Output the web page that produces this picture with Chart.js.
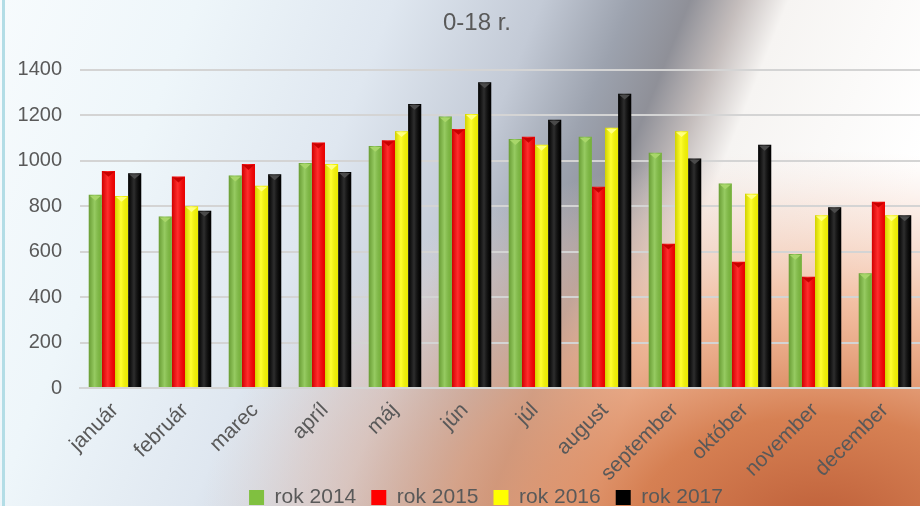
<!DOCTYPE html>
<html>
<head>
<meta charset="utf-8">
<script src="https://cdn.jsdelivr.net/npm/chart.js@4"></script>
<style>
  html, body { margin: 0; padding: 0; background: #fff; }
  #wrap { width: 920px; height: 506px; position: relative; }
</style>
</head>
<body>
<div id="wrap"><canvas id="chart"></canvas></div>
<script>
const months = ['január', 'február', 'marec', 'apríl', 'máj', 'jún', 'júl', 'august', 'september', 'október', 'november', 'december'];
const rok2014 = [850, 755, 935, 990, 1065, 1195, 1095, 1105, 1035, 900, 590, 505];
const rok2015 = [955, 930, 985, 1080, 1090, 1140, 1105, 885, 635, 555, 490, 820];
const rok2016 = [845, 800, 890, 985, 1130, 1205, 1070, 1145, 1130, 855, 760, 760];
const rok2017 = [945, 780, 940, 950, 1250, 1345, 1180, 1295, 1010, 1070, 795, 760];
const yTicks = [0, 200, 400, 600, 800, 1000, 1200, 1400];

const textGrey = '#595959';
const fontFamily = "'Liberation Sans', Arial, sans-serif";

// triangle tops on the bars, one shade per series
const topShades = ['#a8d66a', '#c80000', '#ffff80', '#4a4a4a'];

const backgroundPlugin = {
    id: 'bg',
    beforeDraw(chart) {
        const ctx = chart.ctx;
        const w = chart.width, h = chart.height;
        ctx.save();
        // tilted so the grey swoosh leans to the left going down
        let g = ctx.createLinearGradient(0, 0, 850, 340);
        g.addColorStop(0, '#f7fbfd');
        g.addColorStop(0.2, '#eef6fa');
        g.addColorStop(0.4, '#dfe7f0');
        g.addColorStop(0.55, '#c3cad6');
        g.addColorStop(0.64, '#9ca2ae');
        g.addColorStop(0.7, '#8f9098');
        g.addColorStop(0.75, '#c4bdbc');
        g.addColorStop(0.8, '#f6f4f2');
        g.addColorStop(1, '#ffffff');
        ctx.fillStyle = g;
        ctx.fillRect(0, 0, w, h);

        // warm orange glow coming from the lower right
        ctx.translate(820, 530);
        ctx.scale(1, 380 / 620);
        const r = ctx.createRadialGradient(0, 0, 0, 0, 0, 620);
        r.addColorStop(0, 'rgba(185,85,45,0.95)');
        r.addColorStop(0.3, 'rgba(210,115,65,0.9)');
        r.addColorStop(0.6, 'rgba(238,165,125,0.7)');
        r.addColorStop(0.85, 'rgba(242,200,180,0.35)');
        r.addColorStop(1, 'rgba(245,220,210,0)');
        ctx.fillStyle = r;
        ctx.fillRect(-820, -530 * 620 / 380, w, h * 620 / 380);
        ctx.restore();

        ctx.save();
        ctx.fillStyle = '#b3dde6';
        ctx.fillRect(2, 0, 3, h);
        ctx.restore();
    }
};

const bevelPlugin = {
    id: 'bevel',
    afterDatasetsDraw(chart) {
        const ctx = chart.ctx;
        ctx.save();
        chart.data.datasets.forEach((ds, i) => {
            const meta = chart.getDatasetMeta(i);
            meta.data.forEach(bar => {
                const p = bar.getProps(['x', 'y', 'base', 'width'], true);
                const left = p.x - p.width / 2;
                const g = ctx.createLinearGradient(left, 0, left + p.width, 0);
                g.addColorStop(0, 'rgba(0,0,0,0.18)');
                g.addColorStop(0.45, 'rgba(255,255,255,0.18)');
                g.addColorStop(1, 'rgba(0,0,0,0.08)');
                ctx.fillStyle = g;
                ctx.fillRect(left, p.y, p.width, p.base - p.y);
                ctx.fillStyle = topShades[i];
                ctx.beginPath();
                ctx.moveTo(left + 1, p.y + 1);
                ctx.lineTo(left + p.width - 1, p.y + 1);
                ctx.lineTo(p.x, p.y + p.width * 0.45);
                ctx.closePath();
                ctx.fill();
            });
        });
        ctx.restore();
    }
};

// nudge title and legend to where they sit in the original
const shiftPlugin = {
    id: 'shift',
    afterLayout(chart) {
        chart.titleBlock.left += 12;
        chart.titleBlock.right += 12;
        chart.legend.left += 21;
        chart.legend.right += 21;
        chart.legend.top -= 13;
        chart.legend.bottom -= 13;
    }
};

new Chart(document.getElementById('chart'), {
    type: 'bar',
    data: {
        labels: months,
        datasets: [
            { label: 'rok 2014', data: rok2014, backgroundColor: '#80c040' },
            { label: 'rok 2015', data: rok2015, backgroundColor: '#ff0000' },
            { label: 'rok 2016', data: rok2016, backgroundColor: '#ffff00' },
            { label: 'rok 2017', data: rok2017, backgroundColor: '#000000' }
        ]
    },
    options: {
        responsive: true,
        maintainAspectRatio: false,
        animation: false,
        categoryPercentage: 0.75,
        barPercentage: 1.0,
        layout: { padding: { left: 0, right: -10, top: 0, bottom: -25 } },
        plugins: {
            title: {
                display: true,
                text: '0-18 r.',
                color: textGrey,
                font: { family: fontFamily, size: 24, weight: 'normal' },
                padding: { top: 9, bottom: 32 }
            },
            legend: {
                position: 'bottom',
                labels: {
                    color: textGrey,
                    font: { family: fontFamily, size: 21 },
                    boxWidth: 15,
                    boxHeight: 15,
                    padding: 15
                }
            },
            tooltip: { enabled: false }
        },
        scales: {
            x: {
                grid: { display: false },
                border: { display: true, color: '#d4d4d4', width: 2 },
                ticks: {
                    color: textGrey,
                    font: { family: fontFamily, size: 21 },
                    maxRotation: 45,
                    minRotation: 45,
                    padding: 2
                },
                afterFit(scale) { scale.height = 97; }
            },
            y: {
                min: 0,
                max: 1400,
                afterBuildTicks(scale) { scale.ticks = yTicks.map(v => ({ value: v })); },
                grid: { color: '#d4d4d4', lineWidth: 2, drawTicks: false },
                border: { display: false },
                ticks: {
                    color: textGrey,
                    font: { family: fontFamily, size: 20 },
                    padding: 18,
                    callback: v => String(v)
                },
                afterFit(scale) { scale.width = 80; }
            }
        }
    },
    plugins: [backgroundPlugin, bevelPlugin, shiftPlugin]
});
</script>
</body>
</html>
